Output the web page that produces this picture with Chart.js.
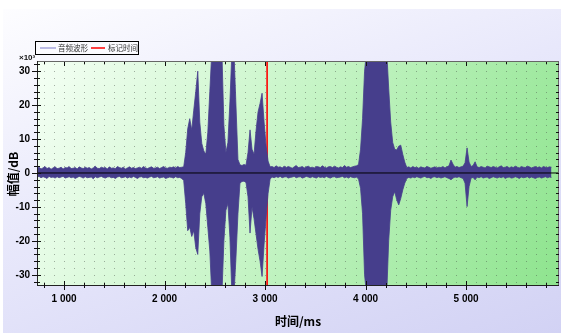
<!DOCTYPE html>
<html>
<head>
<meta charset="utf-8">
<title>音频波形</title>
<script src="https://cdn.jsdelivr.net/npm/chart.js@4"></script>
<style>
  body { margin: 0; background: #fff; }
  .wrap { position: relative; width: 561px; height: 333px; overflow: hidden; }
  .panel {
    position: absolute; left: 3px; top: 9px; right: 0; bottom: 0;
    background: linear-gradient(160deg, #fdfdff 0%, #e8e8fb 45%, #d2d2f4 100%);
  }
  canvas { position: absolute; left: 0; top: 0; }
</style>
</head>
<body>
<div class="wrap">
  <div class="panel"></div>
  <canvas id="wave" width="561" height="333"></canvas>
</div>
<script>
// sampling of the envelope: one value pair every 20 ms starting at 730 ms
const START_MS = 730;
const STEP_MS = 20;

// upper envelope of the waveform (x10^3)
const UPPER = [
  1.4, 1.7, 1.2, 1.5, 1.9, 1.3, 1.6, 1.1, 1.5, 1.8,
  1.3, 1.4, 1.7, 1.2, 1.6, 1.5, 1.9, 1.3, 1.4, 1.6,
  1.2, 1.8, 1.5, 1.3, 1.7, 1.4, 1.6, 1.2, 1.5, 2.0,
  1.4, 1.3, 1.7, 1.5, 1.6, 1.2, 1.8, 1.4, 1.5, 1.3,
  1.9, 1.6, 1.4, 1.7, 1.2, 1.5, 1.8, 1.4, 1.6, 1.3,
  1.5, 1.7, 1.4, 1.9, 1.5, 1.3, 1.6, 1.8, 1.4, 1.5,
  1.7, 1.3, 1.6, 1.9, 1.5, 1.4, 1.7, 1.6, 1.8, 1.5,
  1.9, 1.6, 1.7, 1.8, 6.0, 13.0, 16.0, 12.7, 18.5, 24.0,
  30.0, 15.0, 8.7, 6.5, 5.5, 12.0, 24.0, 36, 36, 36,
  36, 36, 36, 14.0, 6.0, 9.0, 21.0, 36, 36, 20.0,
  4.0, 2.4, 2.2, 2.5, 2.3, 6.0, 12.7, 7.0, 5.5, 12.5,
  18.0, 20.5, 23.5, 15.0, 8.0, 3.5, 1.8, 1.9, 1.6, 2.1,
  1.7, 1.8, 1.5, 2.0, 1.6, 1.9, 1.7, 1.4, 1.8, 2.2,
  1.6, 1.7, 1.9, 1.5, 1.8, 2.0, 1.6, 1.7, 1.5, 1.9,
  1.8, 1.6, 2.1, 1.7, 1.5, 1.8, 1.9, 1.6, 2.0, 1.7,
  1.5, 1.8, 1.6, 2.2, 1.7, 1.9, 1.6, 1.8, 2.0, 2.1,
  2.5, 7.0, 16.0, 30.0, 36, 36, 36, 36, 36, 36,
  36, 36, 36, 36, 36, 25.0, 15.0, 9.0, 7.0, 6.8,
  7.9, 8.2, 5.5, 3.2, 1.6, 1.8, 1.5, 1.9, 1.6, 1.7,
  1.4, 1.8, 1.6, 1.5, 1.9, 1.7, 1.4, 1.6, 1.8, 1.5,
  1.7, 1.6, 1.9, 1.5, 1.8, 2.1, 3.8, 2.6, 1.7, 1.9,
  1.6, 1.8, 2.0, 3.0, 7.4, 3.2, 1.9, 2.2, 3.3, 1.8,
  1.6, 1.9, 1.7, 1.5, 2.0, 1.8, 1.6, 1.9, 1.7, 1.5,
  1.8, 2.1, 1.6, 1.7, 1.9, 1.5, 1.8, 1.6, 2.0, 1.7,
  1.5, 1.9, 1.7, 1.6, 2.0, 1.8, 1.5, 1.7, 1.9, 1.6,
  1.8, 1.5, 1.9, 1.7, 1.6, 1.8, 1.7
];

// lower envelope
const LOWER = [
  -1.2, -1.0, -1.4, -1.1, -1.3, -1.6, -1.0, -1.3, -1.2, -1.5,
  -1.1, -1.4, -1.2, -1.0, -1.5, -1.3, -1.1, -1.4, -1.2, -1.6,
  -1.3, -1.0, -1.2, -1.5, -1.1, -1.4, -1.3, -1.2, -1.7, -1.1,
  -1.4, -1.2, -1.0, -1.3, -1.5, -1.2, -1.1, -1.4, -1.3, -1.6,
  -1.2, -1.0, -1.4, -1.3, -1.1, -1.5, -1.2, -1.4, -1.0, -1.3,
  -1.6, -1.2, -1.1, -1.4, -1.3, -1.5, -1.2, -1.0, -1.4, -1.3,
  -1.1, -1.5, -1.3, -1.2, -1.6, -1.4, -1.2, -1.3, -1.5, -1.1,
  -1.4, -1.3, -1.6, -2.2, -9.0, -17.0, -16.0, -18.7, -17.0, -22.0,
  -24.0, -12.0, -7.0, -6.0, -9.0, -16.0, -23.0, -36, -36, -36,
  -36, -36, -36, -20.0, -11.0, -9.0, -19.0, -36, -36, -25.0,
  -12.0, -3.0, -2.5, -2.4, -2.8, -7.0, -17.7, -10.0, -13.5, -18.0,
  -22.5, -26.0, -30.5, -21.0, -13.0, -6.0, -1.8, -1.2, -1.4, -1.1,
  -1.3, -1.0, -1.4, -1.2, -1.1, -1.5, -1.3, -1.2, -1.0, -1.4,
  -1.2, -1.1, -1.5, -1.3, -1.0, -1.2, -1.4, -1.1, -1.3, -1.5,
  -1.1, -1.3, -1.2, -1.4, -1.0, -1.3, -1.5, -1.2, -1.1, -1.4,
  -1.3, -1.2, -1.0, -1.4, -1.2, -1.5, -1.1, -1.3, -1.4, -1.2,
  -1.8, -4.5, -12.0, -30.0, -36, -36, -36, -36, -36, -36,
  -36, -36, -36, -36, -36, -20.0, -11.0, -7.0, -5.5, -7.9,
  -9.4, -7.5, -5.0, -3.0, -1.6, -1.3, -1.5, -1.2, -1.4, -1.1,
  -1.3, -1.5, -1.2, -1.0, -1.4, -1.3, -1.6, -1.2, -1.1, -1.4,
  -1.2, -1.5, -1.3, -1.1, -1.4, -1.6, -2.0, -1.5, -1.2, -1.3,
  -1.1, -1.4, -1.6, -3.0, -9.9, -4.0, -1.5, -1.3, -2.0, -1.2,
  -1.4, -1.1, -1.5, -1.3, -1.2, -1.6, -1.4, -1.1, -1.3, -1.5,
  -1.2, -1.4, -1.1, -1.6, -1.3, -1.2, -1.5, -1.4, -1.1, -1.3,
  -1.6, -1.2, -1.4, -1.3, -1.1, -1.5, -1.2, -1.4, -1.6, -1.3,
  -1.2, -1.5, -1.3, -1.1, -1.4, -1.2, -1.3
];

const MARK_MS = 3020;

const X_MIN = 730, X_MAX = 5925;
const Y_MIN = -33.3, Y_MAX = 32.7;
const X_TICKS = [1000, 2000, 3000, 4000, 5000];
const Y_TICKS = [-30, -20, -10, 0, 10, 20, 30];
const X_MINOR = 200;
const Y_MINOR = 2;
const LEGEND_LABELS = ['音频波形', '标记时间'];

const WAVE = '#463e8c';
const LABEL_FONT = { family: '"Liberation Sans", Arial, sans-serif', size: 10, weight: 'bold' };
const TITLE_FONT = { family: '"Noto Sans CJK SC", sans-serif', size: 12, weight: 'bold' };

const upperPts = UPPER.map((v, i) => ({ x: START_MS + i * STEP_MS, y: v }));
const lowerPts = LOWER.map((v, i) => ({ x: START_MS + i * STEP_MS, y: v }));

function stepTicks(min, max, step) {
    const out = [];
    for (let k = Math.ceil(min / step); k * step <= max; k++) out.push({ value: k * step });
    return out;
}

function spaced(v) {
    return String(v).replace(/\B(?=(\d{3})+(?!\d))/g, ' ');
}

// green plot background
const plotBg = {
    id: 'plotBg',
    beforeDraw(chart) {
        const { ctx, chartArea: a } = chart;
        const g = ctx.createLinearGradient(a.left, a.top, a.right, a.bottom);
        g.addColorStop(0, '#f4fff4');
        g.addColorStop(0.45, '#c8f5c8');
        g.addColorStop(1, '#8ee48e');
        ctx.save();
        ctx.fillStyle = g;
        ctx.fillRect(a.left, a.top, a.right - a.left, a.bottom - a.top);
        ctx.restore();
    },
    beforeDatasetsDraw(chart) {
        // dotted grid
        const { ctx, chartArea: a, scales: { x, y } } = chart;
        ctx.save();
        ctx.fillStyle = 'rgba(70,80,70,0.45)';
        for (const tx of stepTicks(X_MIN, X_MAX, X_MINOR / 2)) {
            const px = Math.round(x.getPixelForValue(tx.value));
            if (px <= a.left + 1 || px >= a.right - 1) continue;
            for (const ty of stepTicks(Y_MIN, Y_MAX, Y_MINOR)) {
                const py = Math.round(y.getPixelForValue(ty.value));
                ctx.fillRect(px, py, 1, 1);
            }
        }
        ctx.restore();
    }
};

// frame, tick marks, multiplier and legend
const decor = {
    id: 'decor',
    afterDraw(chart) {
        const { ctx, chartArea: a, scales: { x, y } } = chart;
        ctx.save();
        ctx.lineWidth = 1;

        ctx.strokeStyle = '#666';
        ctx.beginPath();
        ctx.moveTo(a.left, a.top - 0.5); ctx.lineTo(a.right, a.top - 0.5);
        ctx.moveTo(a.right - 0.5, a.top); ctx.lineTo(a.right - 0.5, a.bottom);
        ctx.stroke();
        ctx.strokeStyle = '#222';
        ctx.beginPath();
        ctx.moveTo(a.left, a.bottom - 0.5); ctx.lineTo(a.right, a.bottom - 0.5);
        ctx.moveTo(a.left + 0.5, a.top - 1); ctx.lineTo(a.left + 0.5, a.bottom);
        ctx.stroke();

        ctx.strokeStyle = '#111';
        ctx.beginPath();
        for (const t of stepTicks(Y_MIN, Y_MAX, Y_MINOR)) {
            const py = Math.round(y.getPixelForValue(t.value)) + 0.5;
            const major = Y_TICKS.includes(t.value);
            ctx.moveTo(a.left - (major ? 5 : 3), py); ctx.lineTo(a.left + (major ? 4 : 3), py);
            ctx.moveTo(a.right - 3, py); ctx.lineTo(a.right, py);
        }
        for (const t of stepTicks(X_MIN, X_MAX, X_MINOR)) {
            const px = Math.round(x.getPixelForValue(t.value)) + 0.5;
            const major = X_TICKS.includes(t.value);
            ctx.moveTo(px, a.bottom - (major ? 5 : 3)); ctx.lineTo(px, a.bottom + (major ? 4 : 2));
            ctx.moveTo(px, a.top); ctx.lineTo(px, a.top + (major ? 4 : 2));
        }
        ctx.stroke();

        ctx.fillStyle = '#111';
        ctx.font = 'bold 8px "Liberation Sans", Arial, sans-serif';
        ctx.textBaseline = 'alphabetic';
        ctx.fillText('×10³', 19, 60);

        // legend box
        ctx.fillStyle = '#fbfbff';
        ctx.fillRect(35, 41, 103, 13);
        ctx.strokeStyle = '#000';
        ctx.strokeRect(35.5, 41.5, 103, 13);
        ctx.lineWidth = 1.5;
        ctx.strokeStyle = '#a6a6dc';
        ctx.beginPath(); ctx.moveTo(40, 48); ctx.lineTo(56, 48); ctx.stroke();
        ctx.strokeStyle = '#ff0000';
        ctx.beginPath(); ctx.moveTo(91, 48); ctx.lineTo(105, 48); ctx.stroke();
        ctx.fillStyle = '#333';
        ctx.font = '7.5px "Noto Sans CJK SC", sans-serif';
        ctx.textBaseline = 'middle';
        ctx.fillText(LEGEND_LABELS[0], 58, 48);
        ctx.fillText(LEGEND_LABELS[1], 108, 48);
        ctx.restore();
    }
};

new Chart(document.getElementById('wave'), {
    type: 'line',
    data: {
        datasets: [
            {
                label: LEGEND_LABELS[0],
                data: upperPts,
                borderColor: WAVE,
                backgroundColor: WAVE,
                borderWidth: 0.8,
                pointRadius: 0,
                fill: '+1',
                order: 1,
                clip: 0
            },
            {
                label: LEGEND_LABELS[0] + ' (下)',
                data: lowerPts,
                borderColor: WAVE,
                borderWidth: 0.8,
                pointRadius: 0,
                fill: false,
                order: 1,
                clip: 0
            },
            {
                label: LEGEND_LABELS[1],
                data: [{ x: MARK_MS, y: Y_MIN }, { x: MARK_MS, y: Y_MAX }],
                borderColor: '#ff0000',
                borderWidth: 1.6,
                pointRadius: 0,
                fill: false,
                order: 2
            },
            {
                label: 'zero',
                data: [{ x: X_MIN, y: 0 }, { x: X_MAX, y: 0 }],
                borderColor: '#000',
                borderWidth: 1,
                pointRadius: 0,
                fill: false,
                order: 0
            }
        ]
    },
    options: {
        responsive: false,
        animation: false,
        devicePixelRatio: 1,
        events: [],
        layout: { padding: { left: 0, right: 2, top: 62, bottom: 0 } },
        plugins: {
            legend: { display: false },
            tooltip: { enabled: false }
        },
        scales: {
            x: {
                type: 'linear',
                min: X_MIN,
                max: X_MAX,
                afterBuildTicks: s => { s.ticks = stepTicks(X_MIN, X_MAX, X_MINOR); },
                afterFit: s => { s.height = 47; },
                grid: { display: false, drawTicks: false },
                border: { display: false },
                ticks: {
                    autoSkip: false,
                    maxRotation: 0,
                    padding: 7,
                    color: '#000',
                    font: LABEL_FONT,
                    callback: v => X_TICKS.includes(v) ? spaced(v) : ''
                },
                title: {
                    display: true,
                    text: '时间/ms',
                    color: '#000',
                    font: TITLE_FONT,
                    padding: { top: 0, bottom: 4 }
                }
            },
            y: {
                type: 'linear',
                min: Y_MIN,
                max: Y_MAX,
                afterBuildTicks: s => { s.ticks = stepTicks(Y_MIN, Y_MAX, Y_MINOR); },
                afterFit: s => { s.width = 37; },
                grid: { display: false, drawTicks: false },
                border: { display: false },
                ticks: {
                    autoSkip: false,
                    padding: 7,
                    color: '#000',
                    font: LABEL_FONT,
                    callback: v => Y_TICKS.includes(v) ? String(v) : ''
                },
                title: {
                    display: true,
                    text: '幅值/dB',
                    color: '#000',
                    font: TITLE_FONT,
                    padding: { top: 6, bottom: 0 }
                }
            }
        }
    },
    plugins: [plotBg, decor]
});
</script>
</body>
</html>
